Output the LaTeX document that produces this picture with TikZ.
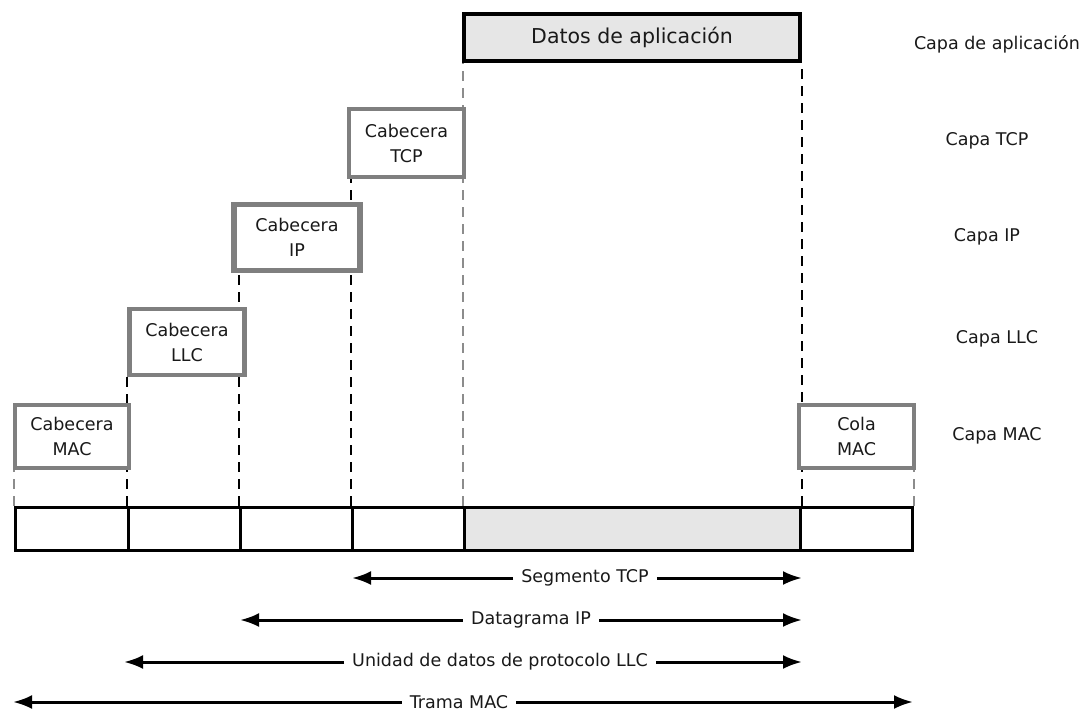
\documentclass[tikz,border=0pt]{standalone}
\usepackage{fontspec}
\setmainfont{DejaVu Sans}
\usetikzlibrary{arrows.meta}
\definecolor{hdrgray}{HTML}{7F7F7F}
\definecolor{appfill}{HTML}{E6E6E6}
\begin{document}
\begin{tikzpicture}[x=1pt,y=-1pt,
  every node/.style={font=\fontsize{17.5}{25}\selectfont, text=black!90},
  hdr/.style={draw=hdrgray, line width=4.8pt, fill=white, align=center, inner sep=0pt},
  app/.style={draw=black, line width=4.8pt, fill=appfill, inner sep=0pt, font=\fontsize{20.5}{25}\selectfont},
  cell/.style={draw=black, line width=3pt, inner sep=0pt, minimum height=43pt},
  guide/.style={line width=2pt, dash pattern=on 10pt off 7pt},
  guidelight/.style={guide, draw=black!45},
  span/.style={line width=3pt, -{Latex[length=19pt,width=14pt]}},
  spanlbl/.style={fill=white, inner xsep=8pt, inner ysep=2pt},
  layer/.style={anchor=center}]
\useasboundingbox (0,0) rectangle (1087,712);

% bottom frame, cell by cell
\node[cell, minimum width=113pt] (c1) at (71.5,528.5) {};
\node[cell, minimum width=112pt] (c2) at (184,528.5) {};
\node[cell, minimum width=112pt] (c3) at (296,528.5) {};
\node[cell, minimum width=112pt] (c4) at (408,528.5) {};
\node[cell, minimum width=336pt, fill=appfill] (c5) at (632,528.5) {};
\node[cell, minimum width=112pt] (c6) at (856,528.5) {};

% header and trailer boxes (drawn later, on top of the guides)
\path (632,37.5) coordinate (appC);

% vertical guide lines from each box down to the frame
\draw[guidelight] (c1.north west) -- ++(0,-37);
\draw[guide] (c2.north west) -- ++(0,-130);
\draw[guide] (c3.north west) -- ++(0,-234);
\draw[guide] (c4.north west) -- ++(0,-328);
\draw[guidelight] (c5.north west) -- ++(0,-444);
\draw[guide] (c5.north east) -- ++(0,-37);
\draw[guide] (c5.north east) ++(0,-104) -- ++(0,-340);
\draw[guidelight] (c6.north east) -- ++(0,-37);

\node[app, minimum width=336pt, minimum height=47pt] (app) at (appC) {Datos de aplicación};
\node[hdr, minimum width=115pt, minimum height=68pt] (tcp) at (406.5,143) {Cabecera\\TCP};
\node[hdr, line width=5.5pt, minimum width=126pt, minimum height=66pt] (ip) at (297,237.5) {Cabecera\\IP};
\node[hdr, minimum width=115pt, minimum height=66pt] (llc) at (187,342) {Cabecera\\LLC};
\node[hdr, minimum width=114pt, minimum height=63pt] (mac) at (72,436.5) {Cabecera\\MAC};
\node[hdr, minimum width=115pt, minimum height=63pt] (cola) at (856.5,436.5) {Cola\\MAC};

% layer names
\node[layer] (lapp) at (997,44) {Capa de aplicación};
\node[layer] (ltcp) at (987,141) {Capa TCP};
\node[layer] (lip) at (987,237) {Capa IP};
\node[layer] (lllc) at (997,339) {Capa LLC};
\node[layer] (lmac) at (997,436) {Capa MAC};

% extent of each protocol data unit
\coordinate (sL) at (352,578);  \coordinate (sR) at (802,578);
\coordinate (dL) at (240,620);  \coordinate (dR) at (802,620);
\coordinate (uL) at (124,662);  \coordinate (uR) at (802,662);
\coordinate (tL) at (13,702);   \coordinate (tR) at (913,702);

\node[spanlbl] (seg) at (585,578) {Segmento TCP};
\node[spanlbl] (dgr) at (531,620) {Datagrama IP};
\node[spanlbl] (pdu) at (500,662) {Unidad de datos de protocolo LLC};
\node[spanlbl] (trm) at (459,702) {Trama MAC};

\draw[span] (seg.west) -- (sL);
\draw[span] (seg.east) -- (sR);
\draw[span] (dgr.west) -- (dL);
\draw[span] (dgr.east) -- (dR);
\draw[span] (pdu.west) -- (uL);
\draw[span] (pdu.east) -- (uR);
\draw[span] (trm.west) -- (tL);
\draw[span] (trm.east) -- (tR);
\end{tikzpicture}
\end{document}
